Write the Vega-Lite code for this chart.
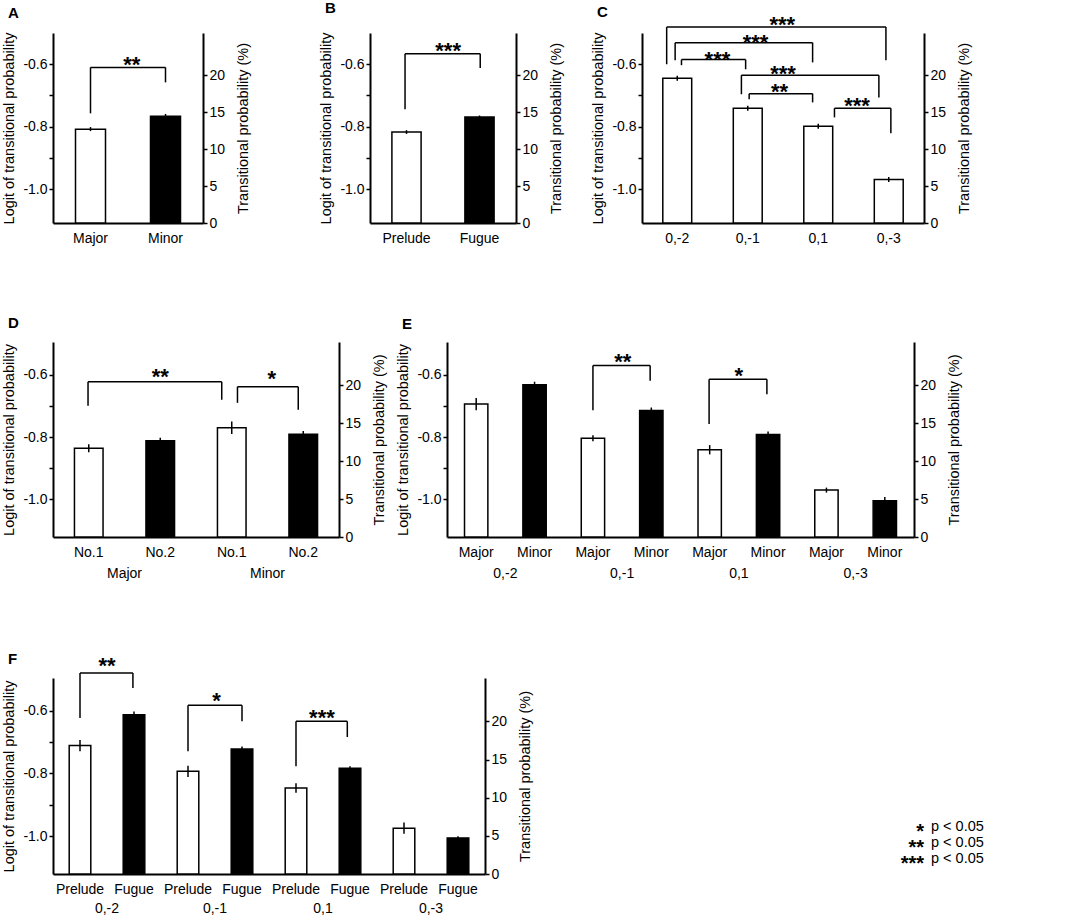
{
  "$schema": "https://vega.github.io/schema/vega-lite/v6.json",
  "padding": {"left": 1, "top": 1, "right": 4, "bottom": 4},
  "background": "white",
  "config": {
    "font": "Liberation Sans",
    "view": {"stroke": null},
    "axis": {
      "domainColor": "black", "domainWidth": 2, "tickColor": "black", "tickWidth": 1.5,
      "labelColor": "black", "titleColor": "black", "labelFontSize": 14, "titleFontSize": 14.5,
      "titleFontWeight": "normal", "grid": false
    },
    "title": {"fontSize": 15, "fontWeight": "bold", "anchor": "start", "frame": "bounds", "color": "black"}
  },
  "datasets": {
    "a_bars": [
      {"key": "Major", "sub": "Major", "logit": -0.808, "lo": -0.814, "hi": -0.801},
      {"key": "Minor", "sub": "Minor", "logit": -0.766, "lo": -0.772, "hi": -0.759}
    ],
    "a_brk": [
      {"x1": 0.5, "x2": 1.5, "yl": -0.757, "yr": -0.658, "yt": -0.61, "xm": 1.05, "ys": -0.587, "stars": "**"}
    ],
    "b_bars": [
      {"key": "Prelude", "sub": "Prelude", "logit": -0.817, "lo": -0.823, "hi": -0.811},
      {"key": "Fugue", "sub": "Fugue", "logit": -0.769, "lo": -0.774, "hi": -0.764}
    ],
    "b_brk": [
      {"x1": 0.48, "x2": 1.51, "yl": -0.744, "yr": -0.612, "yt": -0.566, "xm": 1.07, "ys": -0.542, "stars": "***"}
    ],
    "c_bars": [
      {"key": "0,-2", "sub": "0,-2", "logit": -0.645, "lo": -0.653, "hi": -0.637},
      {"key": "0,-1", "sub": "0,-1", "logit": -0.741, "lo": -0.749, "hi": -0.733},
      {"key": "0,1", "sub": "0,1", "logit": -0.798, "lo": -0.806, "hi": -0.79},
      {"key": "0,-3", "sub": "0,-3", "logit": -0.969, "lo": -0.977, "hi": -0.961}
    ],
    "c_brk": [
      {"x1": 0.35, "x2": 3.46, "yl": -0.6, "yr": -0.587, "yt": -0.481, "xm": 1.99, "ys": -0.459, "stars": "***"},
      {"x1": 0.47, "x2": 2.42, "yl": -0.587, "yr": -0.594, "yt": -0.531, "xm": 1.61, "ys": -0.517, "stars": "***"},
      {"x1": 0.56, "x2": 1.47, "yl": -0.603, "yr": -0.616, "yt": -0.585, "xm": 1.07, "ys": -0.571, "stars": "***"},
      {"x1": 1.41, "x2": 3.36, "yl": -0.696, "yr": -0.706, "yt": -0.635, "xm": 2.0, "ys": -0.616, "stars": "***"},
      {"x1": 1.52, "x2": 2.42, "yl": -0.712, "yr": -0.722, "yt": -0.694, "xm": 1.95, "ys": -0.674, "stars": "**"},
      {"x1": 2.73, "x2": 3.53, "yl": -0.77, "yr": -0.821, "yt": -0.741, "xm": 3.05, "ys": -0.718, "stars": "***"}
    ],
    "d_bars": [
      {"key": "Major|No.1", "group": "Major", "sub": "No.1", "logit": -0.836, "lo": -0.849, "hi": -0.823},
      {"key": "Major|No.2", "group": "Major", "sub": "No.2", "logit": -0.812, "lo": -0.822, "hi": -0.802},
      {"key": "Minor|No.1", "group": "Minor", "sub": "No.1", "logit": -0.77, "lo": -0.79, "hi": -0.75},
      {"key": "Minor|No.2", "group": "Minor", "sub": "No.2", "logit": -0.791, "lo": -0.801, "hi": -0.781}
    ],
    "d_brk": [
      {"x1": 0.49, "x2": 2.36, "yl": -0.699, "yr": -0.68, "yt": -0.622, "xm": 1.5, "ys": -0.59, "stars": "**"},
      {"x1": 2.58, "x2": 3.43, "yl": -0.69, "yr": -0.712, "yt": -0.638, "xm": 3.06, "ys": -0.597, "stars": "*"}
    ],
    "d_grp": [
      {"group": "Major", "gx": 1},
      {"group": "Minor", "gx": 3}
    ],
    "e_bars": [
      {"key": "0,-2|Major", "group": "0,-2", "sub": "Major", "logit": -0.694, "lo": -0.714, "hi": -0.674},
      {"key": "0,-2|Minor", "group": "0,-2", "sub": "Minor", "logit": -0.632, "lo": -0.642, "hi": -0.622},
      {"key": "0,-1|Major", "group": "0,-1", "sub": "Major", "logit": -0.804, "lo": -0.814, "hi": -0.794},
      {"key": "0,-1|Minor", "group": "0,-1", "sub": "Minor", "logit": -0.715, "lo": -0.725, "hi": -0.705},
      {"key": "0,1|Major", "group": "0,1", "sub": "Major", "logit": -0.841, "lo": -0.856, "hi": -0.826},
      {"key": "0,1|Minor", "group": "0,1", "sub": "Minor", "logit": -0.792, "lo": -0.802, "hi": -0.782},
      {"key": "0,-3|Major", "group": "0,-3", "sub": "Major", "logit": -0.971, "lo": -0.979, "hi": -0.963},
      {"key": "0,-3|Minor", "group": "0,-3", "sub": "Minor", "logit": -1.005, "lo": -1.017, "hi": -0.993}
    ],
    "e_brk": [
      {"x1": 2.5, "x2": 3.48, "yl": -0.714, "yr": -0.619, "yt": -0.57, "xm": 3.01, "ys": -0.542, "stars": "**"},
      {"x1": 4.49, "x2": 5.48, "yl": -0.758, "yr": -0.662, "yt": -0.614, "xm": 5.0, "ys": -0.587, "stars": "*"}
    ],
    "e_grp": [
      {"group": "0,-2", "gx": 1},
      {"group": "0,-1", "gx": 3},
      {"group": "0,1", "gx": 5},
      {"group": "0,-3", "gx": 7}
    ],
    "f_bars": [
      {"key": "0,-2|Prelude", "group": "0,-2", "sub": "Prelude", "logit": -0.711, "lo": -0.729, "hi": -0.693},
      {"key": "0,-2|Fugue", "group": "0,-2", "sub": "Fugue", "logit": -0.613, "lo": -0.623, "hi": -0.603},
      {"key": "0,-1|Prelude", "group": "0,-1", "sub": "Prelude", "logit": -0.793, "lo": -0.811, "hi": -0.775},
      {"key": "0,-1|Fugue", "group": "0,-1", "sub": "Fugue", "logit": -0.722, "lo": -0.73, "hi": -0.714},
      {"key": "0,1|Prelude", "group": "0,1", "sub": "Prelude", "logit": -0.846, "lo": -0.861, "hi": -0.831},
      {"key": "0,1|Fugue", "group": "0,1", "sub": "Fugue", "logit": -0.783, "lo": -0.789, "hi": -0.777},
      {"key": "0,-3|Prelude", "group": "0,-3", "sub": "Prelude", "logit": -0.974, "lo": -0.992, "hi": -0.956},
      {"key": "0,-3|Fugue", "group": "0,-3", "sub": "Fugue", "logit": -1.005, "lo": -1.01, "hi": -1.0}
    ],
    "f_brk": [
      {"x1": 0.5, "x2": 1.48, "yl": -0.623, "yr": -0.528, "yt": -0.48, "xm": 1.0, "ys": -0.443, "stars": "**"},
      {"x1": 2.5, "x2": 3.5, "yl": -0.729, "yr": -0.634, "yt": -0.583, "xm": 3.03, "ys": -0.554, "stars": "*"},
      {"x1": 4.5, "x2": 5.45, "yl": -0.777, "yr": -0.684, "yt": -0.634, "xm": 4.98, "ys": -0.609, "stars": "***"}
    ],
    "f_grp": [
      {"group": "0,-2", "gx": 1},
      {"group": "0,-1", "gx": 3},
      {"group": "0,1", "gx": 5},
      {"group": "0,-3", "gx": 7}
    ],
    "legend": [
      {"stars": "*", "label": "p < 0.05"},
      {"stars": "**", "label": "p < 0.05"},
      {"stars": "***", "label": "p < 0.05"}
    ]
  },
  "vconcat": [
    {
      "hconcat": [
        {
          "hconcat": [
            {
              "title": {"text": "A", "offset": 11, "dx": 6},
              "width": 150, "height": 190,
              "layer": [
                {
                  "layer": [
                    {
                      "data": {"name": "a_bars"},
                      "layer": [
                        {"mark": {"type": "bar", "stroke": "black", "strokeWidth": 1.5},
                         "encoding": {
                           "x": {"field": "key", "type": "nominal", "sort": null, "scale": {"paddingInner": 0.6, "paddingOuter": 0.3}, "axis": {"title": null, "ticks": false, "labelAngle": 0, "labelPadding": 8}},
                           "y": {"field": "logit", "type": "quantitative", "scale": {"domain": [-1.108, -0.5], "nice": false},
                                 "axis": {"title": "Logit of transitional probability", "values": [-1.0, -0.9, -0.8, -0.7, -0.6], "labelExpr": "round(datum.value * 10) % 2 == 0 ? '-' + format(-datum.value, '.1f') : ''", "tickSize": 4, "labelPadding": 2, "titlePadding": 6}},
                           "y2": {"datum": -1.108},
                           "fill": {"condition": {"test": "datum.sub === 'Minor'", "value": "black"}, "value": "white"}
                         }},
                        {"mark": {"type": "rule", "strokeWidth": 1.5, "color": "black"},
                         "encoding": {
                           "x": {"field": "key", "type": "nominal", "sort": null},
                           "y": {"field": "lo", "type": "quantitative"},
                           "y2": {"field": "hi"}
                         }}
                      ]
                    },
                    {
                      "data": {"name": "a_brk"},
                      "layer": [
                        {"mark": {"type": "rule", "strokeWidth": 1.5, "color": "black"},
                         "encoding": {"x": {"field": "x1", "type": "quantitative", "scale": {"domain": [0, 2], "nice": false, "zero": false}, "axis": null}, "y": {"field": "yl", "type": "quantitative"}, "y2": {"field": "yt"}}},
                        {"mark": {"type": "rule", "strokeWidth": 1.5, "color": "black"},
                         "encoding": {"x": {"field": "x1", "type": "quantitative", "axis": null}, "x2": {"field": "x2"}, "y": {"field": "yt", "type": "quantitative"}}},
                        {"mark": {"type": "rule", "strokeWidth": 1.5, "color": "black"},
                         "encoding": {"x": {"field": "x2", "type": "quantitative", "axis": null}, "y": {"field": "yr", "type": "quantitative"}, "y2": {"field": "yt"}}},
                        {"mark": {"type": "text", "fontSize": 22, "fontWeight": "bold", "baseline": "alphabetic", "dy": 12},
                         "encoding": {"x": {"field": "xm", "type": "quantitative", "axis": null}, "y": {"field": "ys", "type": "quantitative"}, "text": {"field": "stars"}}}
                      ]
                    }
                  ],
                  "resolve": {"scale": {"x": "independent"}}
                },
                {
                  "data": {"name": "a_bars"},
                  "mark": {"type": "rule", "strokeOpacity": 0},
                  "encoding": {"y": {"datum": 0, "type": "quantitative", "scale": {"domain": [0, 25.7], "nice": false},
                    "axis": {"orient": "right", "title": "Transitional probability (%)", "values": [0, 5, 10, 15, 20], "tickSize": 4, "labelPadding": 2, "titlePadding": 12, "titleAngle": 270, "titleBaseline": "top"}}}
                }
              ],
              "resolve": {"scale": {"y": "independent"}}
            },
            {
              "title": {"text": "B", "offset": 16, "dx": 6},
              "width": 146, "height": 190,
              "layer": [
                {
                  "layer": [
                    {
                      "data": {"name": "b_bars"},
                      "layer": [
                        {"mark": {"type": "bar", "stroke": "black", "strokeWidth": 1.5},
                         "encoding": {
                           "x": {"field": "key", "type": "nominal", "sort": null, "scale": {"paddingInner": 0.6, "paddingOuter": 0.3}, "axis": {"title": null, "ticks": false, "labelAngle": 0, "labelPadding": 8}},
                           "y": {"field": "logit", "type": "quantitative", "scale": {"domain": [-1.108, -0.5], "nice": false},
                                 "axis": {"title": "Logit of transitional probability", "values": [-1.0, -0.9, -0.8, -0.7, -0.6], "labelExpr": "round(datum.value * 10) % 2 == 0 ? '-' + format(-datum.value, '.1f') : ''", "tickSize": 4, "labelPadding": 2, "titlePadding": 6}},
                           "y2": {"datum": -1.108},
                           "fill": {"condition": {"test": "datum.sub === 'Fugue'", "value": "black"}, "value": "white"}
                         }},
                        {"mark": {"type": "rule", "strokeWidth": 1.5, "color": "black"},
                         "encoding": {
                           "x": {"field": "key", "type": "nominal", "sort": null},
                           "y": {"field": "lo", "type": "quantitative"},
                           "y2": {"field": "hi"}
                         }}
                      ]
                    },
                    {
                      "data": {"name": "b_brk"},
                      "layer": [
                        {"mark": {"type": "rule", "strokeWidth": 1.5, "color": "black"},
                         "encoding": {"x": {"field": "x1", "type": "quantitative", "scale": {"domain": [0, 2], "nice": false, "zero": false}, "axis": null}, "y": {"field": "yl", "type": "quantitative"}, "y2": {"field": "yt"}}},
                        {"mark": {"type": "rule", "strokeWidth": 1.5, "color": "black"},
                         "encoding": {"x": {"field": "x1", "type": "quantitative", "axis": null}, "x2": {"field": "x2"}, "y": {"field": "yt", "type": "quantitative"}}},
                        {"mark": {"type": "rule", "strokeWidth": 1.5, "color": "black"},
                         "encoding": {"x": {"field": "x2", "type": "quantitative", "axis": null}, "y": {"field": "yr", "type": "quantitative"}, "y2": {"field": "yt"}}},
                        {"mark": {"type": "text", "fontSize": 22, "fontWeight": "bold", "baseline": "alphabetic", "dy": 12},
                         "encoding": {"x": {"field": "xm", "type": "quantitative", "axis": null}, "y": {"field": "ys", "type": "quantitative"}, "text": {"field": "stars"}}}
                      ]
                    }
                  ],
                  "resolve": {"scale": {"x": "independent"}}
                },
                {
                  "data": {"name": "b_bars"},
                  "mark": {"type": "rule", "strokeOpacity": 0},
                  "encoding": {"y": {"datum": 0, "type": "quantitative", "scale": {"domain": [0, 25.7], "nice": false},
                    "axis": {"orient": "right", "title": "Transitional probability (%)", "values": [0, 5, 10, 15, 20], "tickSize": 4, "labelPadding": 2, "titlePadding": 12, "titleAngle": 270, "titleBaseline": "top"}}}
                }
              ],
              "resolve": {"scale": {"y": "independent"}}
            }
          ],
          "spacing": 67
        },
        {
          "title": {"text": "C", "offset": -6, "dx": 6},
          "width": 282, "height": 190,
          "layer": [
            {
              "layer": [
                {
                  "data": {"name": "c_bars"},
                  "layer": [
                    {"mark": {"type": "bar", "stroke": "black", "strokeWidth": 1.5, "fill": "white"},
                     "encoding": {
                       "x": {"field": "key", "type": "nominal", "sort": null, "scale": {"paddingInner": 0.59, "paddingOuter": 0.295}, "axis": {"title": null, "ticks": false, "labelAngle": 0, "labelPadding": 8}},
                       "y": {"field": "logit", "type": "quantitative", "scale": {"domain": [-1.108, -0.5], "nice": false},
                             "axis": {"title": "Logit of transitional probability", "values": [-1.0, -0.9, -0.8, -0.7, -0.6], "labelExpr": "round(datum.value * 10) % 2 == 0 ? '-' + format(-datum.value, '.1f') : ''", "tickSize": 4, "labelPadding": 2, "titlePadding": 6}},
                       "y2": {"datum": -1.108}
                     }},
                    {"mark": {"type": "rule", "strokeWidth": 1.5, "color": "black"},
                     "encoding": {
                       "x": {"field": "key", "type": "nominal", "sort": null},
                       "y": {"field": "lo", "type": "quantitative"},
                       "y2": {"field": "hi"}
                     }}
                  ]
                },
                {
                  "data": {"name": "c_brk"},
                  "layer": [
                    {"mark": {"type": "rule", "strokeWidth": 1.5, "color": "black"},
                     "encoding": {"x": {"field": "x1", "type": "quantitative", "scale": {"domain": [0, 4], "nice": false, "zero": false}, "axis": null}, "y": {"field": "yl", "type": "quantitative"}, "y2": {"field": "yt"}}},
                    {"mark": {"type": "rule", "strokeWidth": 1.5, "color": "black"},
                     "encoding": {"x": {"field": "x1", "type": "quantitative", "axis": null}, "x2": {"field": "x2"}, "y": {"field": "yt", "type": "quantitative"}}},
                    {"mark": {"type": "rule", "strokeWidth": 1.5, "color": "black"},
                     "encoding": {"x": {"field": "x2", "type": "quantitative", "axis": null}, "y": {"field": "yr", "type": "quantitative"}, "y2": {"field": "yt"}}},
                    {"mark": {"type": "text", "fontSize": 22, "fontWeight": "bold", "baseline": "alphabetic", "dy": 12},
                     "encoding": {"x": {"field": "xm", "type": "quantitative", "axis": null}, "y": {"field": "ys", "type": "quantitative"}, "text": {"field": "stars"}}}
                  ]
                }
              ],
              "resolve": {"scale": {"x": "independent"}}
            },
            {
              "data": {"name": "c_bars"},
              "mark": {"type": "rule", "strokeOpacity": 0},
              "encoding": {"y": {"datum": 0, "type": "quantitative", "scale": {"domain": [0, 25.7], "nice": false},
                "axis": {"orient": "right", "title": "Transitional probability (%)", "values": [0, 5, 10, 15, 20], "tickSize": 4, "labelPadding": 2, "titlePadding": 12, "titleAngle": 270, "titleBaseline": "top"}}}
            }
          ],
          "resolve": {"scale": {"y": "independent"}}
        }
      ],
      "spacing": 26
    },
    {
      "hconcat": [
        {
          "title": {"text": "D", "offset": 11, "dx": 6},
          "width": 286, "height": 195,
          "layer": [
            {
              "layer": [
                {
                  "data": {"name": "d_bars"},
                  "layer": [
                    {"mark": {"type": "bar", "stroke": "black", "strokeWidth": 1.5},
                     "encoding": {
                       "x": {"field": "key", "type": "nominal", "sort": null, "scale": {"paddingInner": 0.6, "paddingOuter": 0.3}, "axis": {"title": null, "ticks": false, "labelAngle": 0, "labelPadding": 8, "labelExpr": "split(datum.label, '|')[1]"}},
                       "y": {"field": "logit", "type": "quantitative", "scale": {"domain": [-1.122, -0.494], "nice": false},
                             "axis": {"title": "Logit of transitional probability", "values": [-1.0, -0.9, -0.8, -0.7, -0.6], "labelExpr": "round(datum.value * 10) % 2 == 0 ? '-' + format(-datum.value, '.1f') : ''", "tickSize": 4, "labelPadding": 2, "titlePadding": 6}},
                       "y2": {"datum": -1.122},
                       "fill": {"condition": {"test": "datum.sub === 'No.2'", "value": "black"}, "value": "white"}
                     }},
                    {"mark": {"type": "rule", "strokeWidth": 1.5, "color": "black"},
                     "encoding": {
                       "x": {"field": "key", "type": "nominal", "sort": null},
                       "y": {"field": "lo", "type": "quantitative"},
                       "y2": {"field": "hi"}
                     }}
                  ]
                },
                {
                  "layer": [
                    {"data": {"name": "d_brk"}, "mark": {"type": "rule", "strokeWidth": 1.5, "color": "black"},
                     "encoding": {"x": {"field": "x1", "type": "quantitative", "scale": {"domain": [0, 4], "nice": false, "zero": false}, "axis": null}, "y": {"field": "yl", "type": "quantitative"}, "y2": {"field": "yt"}}},
                    {"data": {"name": "d_brk"}, "mark": {"type": "rule", "strokeWidth": 1.5, "color": "black"},
                     "encoding": {"x": {"field": "x1", "type": "quantitative", "axis": null}, "x2": {"field": "x2"}, "y": {"field": "yt", "type": "quantitative"}}},
                    {"data": {"name": "d_brk"}, "mark": {"type": "rule", "strokeWidth": 1.5, "color": "black"},
                     "encoding": {"x": {"field": "x2", "type": "quantitative", "axis": null}, "y": {"field": "yr", "type": "quantitative"}, "y2": {"field": "yt"}}},
                    {"data": {"name": "d_brk"}, "mark": {"type": "text", "fontSize": 22, "fontWeight": "bold", "baseline": "alphabetic", "dy": 12},
                     "encoding": {"x": {"field": "xm", "type": "quantitative", "axis": null}, "y": {"field": "ys", "type": "quantitative"}, "text": {"field": "stars"}}},
                    {"data": {"name": "d_grp"}, "mark": {"type": "text", "fontSize": 14, "baseline": "middle"},
                     "encoding": {"x": {"field": "gx", "type": "quantitative", "axis": null}, "y": {"datum": -1.241, "type": "quantitative"}, "text": {"field": "group"}}}
                  ]
                }
              ],
              "resolve": {"scale": {"x": "independent"}}
            },
            {
              "data": {"name": "d_bars"},
              "mark": {"type": "rule", "strokeOpacity": 0},
              "encoding": {"y": {"datum": 0, "type": "quantitative", "scale": {"domain": [0, 25.7], "nice": false},
                "axis": {"orient": "right", "title": "Transitional probability (%)", "values": [0, 5, 10, 15, 20], "tickSize": 4, "labelPadding": 2, "titlePadding": 12, "titleAngle": 270, "titleBaseline": "top"}}}
            }
          ],
          "resolve": {"scale": {"y": "independent"}}
        },
        {
          "title": {"text": "E", "offset": 10, "dx": 6},
          "width": 467, "height": 195,
          "layer": [
            {
              "layer": [
                {
                  "data": {"name": "e_bars"},
                  "layer": [
                    {"mark": {"type": "bar", "stroke": "black", "strokeWidth": 1.5},
                     "encoding": {
                       "x": {"field": "key", "type": "nominal", "sort": null, "scale": {"paddingInner": 0.6, "paddingOuter": 0.3}, "axis": {"title": null, "ticks": false, "labelAngle": 0, "labelPadding": 8, "labelExpr": "split(datum.label, '|')[1]"}},
                       "y": {"field": "logit", "type": "quantitative", "scale": {"domain": [-1.122, -0.494], "nice": false},
                             "axis": {"title": "Logit of transitional probability", "values": [-1.0, -0.9, -0.8, -0.7, -0.6], "labelExpr": "round(datum.value * 10) % 2 == 0 ? '-' + format(-datum.value, '.1f') : ''", "tickSize": 4, "labelPadding": 2, "titlePadding": 6}},
                       "y2": {"datum": -1.122},
                       "fill": {"condition": {"test": "datum.sub === 'Minor'", "value": "black"}, "value": "white"}
                     }},
                    {"mark": {"type": "rule", "strokeWidth": 1.5, "color": "black"},
                     "encoding": {
                       "x": {"field": "key", "type": "nominal", "sort": null},
                       "y": {"field": "lo", "type": "quantitative"},
                       "y2": {"field": "hi"}
                     }}
                  ]
                },
                {
                  "layer": [
                    {"data": {"name": "e_brk"}, "mark": {"type": "rule", "strokeWidth": 1.5, "color": "black"},
                     "encoding": {"x": {"field": "x1", "type": "quantitative", "scale": {"domain": [0, 8], "nice": false, "zero": false}, "axis": null}, "y": {"field": "yl", "type": "quantitative"}, "y2": {"field": "yt"}}},
                    {"data": {"name": "e_brk"}, "mark": {"type": "rule", "strokeWidth": 1.5, "color": "black"},
                     "encoding": {"x": {"field": "x1", "type": "quantitative", "axis": null}, "x2": {"field": "x2"}, "y": {"field": "yt", "type": "quantitative"}}},
                    {"data": {"name": "e_brk"}, "mark": {"type": "rule", "strokeWidth": 1.5, "color": "black"},
                     "encoding": {"x": {"field": "x2", "type": "quantitative", "axis": null}, "y": {"field": "yr", "type": "quantitative"}, "y2": {"field": "yt"}}},
                    {"data": {"name": "e_brk"}, "mark": {"type": "text", "fontSize": 22, "fontWeight": "bold", "baseline": "alphabetic", "dy": 12},
                     "encoding": {"x": {"field": "xm", "type": "quantitative", "axis": null}, "y": {"field": "ys", "type": "quantitative"}, "text": {"field": "stars"}}},
                    {"data": {"name": "e_grp"}, "mark": {"type": "text", "fontSize": 14, "baseline": "middle"},
                     "encoding": {"x": {"field": "gx", "type": "quantitative", "axis": null}, "y": {"datum": -1.241, "type": "quantitative"}, "text": {"field": "group"}}}
                  ]
                }
              ],
              "resolve": {"scale": {"x": "independent"}}
            },
            {
              "data": {"name": "e_bars"},
              "mark": {"type": "rule", "strokeOpacity": 0},
              "encoding": {"y": {"datum": 0, "type": "quantitative", "scale": {"domain": [0, 25.7], "nice": false},
                "axis": {"orient": "right", "title": "Transitional probability (%)", "values": [0, 5, 10, 15, 20], "tickSize": 4, "labelPadding": 2, "titlePadding": 12, "titleAngle": 270, "titleBaseline": "top"}}}
            }
          ],
          "resolve": {"scale": {"y": "independent"}}
        }
      ],
      "spacing": 8
    },
    {
      "hconcat": [
        {
          "title": {"text": "F", "offset": -12, "dx": 6},
          "width": 432, "height": 196,
          "layer": [
            {
              "layer": [
                {
                  "data": {"name": "f_bars"},
                  "layer": [
                    {"mark": {"type": "bar", "stroke": "black", "strokeWidth": 1.5},
                     "encoding": {
                       "x": {"field": "key", "type": "nominal", "sort": null, "scale": {"paddingInner": 0.6, "paddingOuter": 0.3}, "axis": {"title": null, "ticks": false, "labelAngle": 0, "labelPadding": 8, "labelExpr": "split(datum.label, '|')[1]"}},
                       "y": {"field": "logit", "type": "quantitative", "scale": {"domain": [-1.12, -0.496], "nice": false},
                             "axis": {"title": "Logit of transitional probability", "values": [-1.0, -0.9, -0.8, -0.7, -0.6], "labelExpr": "round(datum.value * 10) % 2 == 0 ? '-' + format(-datum.value, '.1f') : ''", "tickSize": 4, "labelPadding": 2, "titlePadding": 6}},
                       "y2": {"datum": -1.12},
                       "fill": {"condition": {"test": "datum.sub === 'Fugue'", "value": "black"}, "value": "white"}
                     }},
                    {"mark": {"type": "rule", "strokeWidth": 1.5, "color": "black"},
                     "encoding": {
                       "x": {"field": "key", "type": "nominal", "sort": null},
                       "y": {"field": "lo", "type": "quantitative"},
                       "y2": {"field": "hi"}
                     }}
                  ]
                },
                {
                  "layer": [
                    {"data": {"name": "f_brk"}, "mark": {"type": "rule", "strokeWidth": 1.5, "color": "black"},
                     "encoding": {"x": {"field": "x1", "type": "quantitative", "scale": {"domain": [0, 8], "nice": false, "zero": false}, "axis": null}, "y": {"field": "yl", "type": "quantitative"}, "y2": {"field": "yt"}}},
                    {"data": {"name": "f_brk"}, "mark": {"type": "rule", "strokeWidth": 1.5, "color": "black"},
                     "encoding": {"x": {"field": "x1", "type": "quantitative", "axis": null}, "x2": {"field": "x2"}, "y": {"field": "yt", "type": "quantitative"}}},
                    {"data": {"name": "f_brk"}, "mark": {"type": "rule", "strokeWidth": 1.5, "color": "black"},
                     "encoding": {"x": {"field": "x2", "type": "quantitative", "axis": null}, "y": {"field": "yr", "type": "quantitative"}, "y2": {"field": "yt"}}},
                    {"data": {"name": "f_brk"}, "mark": {"type": "text", "fontSize": 22, "fontWeight": "bold", "baseline": "alphabetic", "dy": 12},
                     "encoding": {"x": {"field": "xm", "type": "quantitative", "axis": null}, "y": {"field": "ys", "type": "quantitative"}, "text": {"field": "stars"}}},
                    {"data": {"name": "f_grp"}, "mark": {"type": "text", "fontSize": 14, "baseline": "middle"},
                     "encoding": {"x": {"field": "gx", "type": "quantitative", "axis": null}, "y": {"datum": -1.231, "type": "quantitative"}, "text": {"field": "group"}}}
                  ]
                }
              ],
              "resolve": {"scale": {"x": "independent"}}
            },
            {
              "data": {"name": "f_bars"},
              "mark": {"type": "rule", "strokeOpacity": 0},
              "encoding": {"y": {"datum": 0, "type": "quantitative", "scale": {"domain": [0, 25.7], "nice": false},
                "axis": {"orient": "right", "title": "Transitional probability (%)", "values": [0, 5, 10, 15, 20], "tickSize": 4, "labelPadding": 2, "titlePadding": 12, "titleAngle": 270, "titleBaseline": "top"}}}
            }
          ],
          "resolve": {"scale": {"y": "independent"}}
        },
        {
          "width": 100, "height": 196,
          "data": {"name": "legend"},
          "encoding": {"y": {"field": "stars", "type": "ordinal", "sort": null, "scale": {"type": "point", "padding": 0, "range": [149, 181]}, "axis": null}},
          "layer": [
            {"mark": {"type": "text", "align": "right", "baseline": "alphabetic", "dy": 11, "dx": -2, "fontSize": 20, "fontWeight": "bold"},
             "encoding": {"text": {"field": "stars"}}},
            {"mark": {"type": "text", "align": "left", "baseline": "middle", "dx": 5, "fontSize": 14.5},
             "encoding": {"text": {"field": "label"}}}
          ]
        }
      ],
      "spacing": 343
    }
  ],
  "spacing": 71
}
